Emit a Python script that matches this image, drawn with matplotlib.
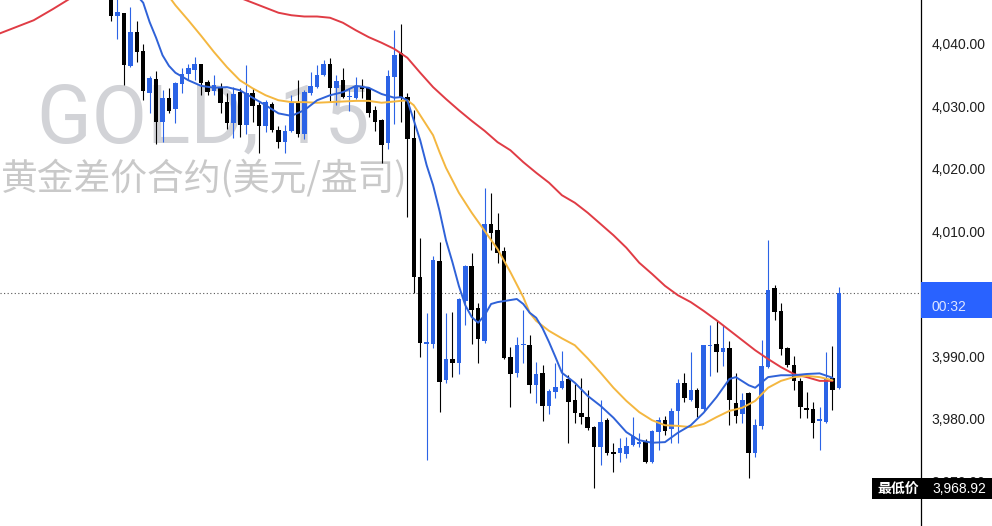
import numpy as np
import matplotlib
matplotlib.use("Agg")
import matplotlib.pyplot as plt
from matplotlib.patches import Rectangle

plt.rcParams['font.family'] = ['Liberation Sans', 'Noto Sans CJK SC', 'DejaVu Sans']

# ---------------- data (15-minute bars, index 0 = first visible bar) ----------------
opens = [4047.5, 4044.5, 4045.0, 4036.5, 4041.9, 4038.9, 4032.2, 4034.4, 4027.5, 4031.4,
         4029.6, 4033.6, 4035.2, 4035.8, 4036.8, 4033.9, 4032.5, 4033.0, 4030.7, 4027.4,
         4032.3, 4027.0, 4032.2, 4030.2, 4026.9, 4030.4, 4026.2, 4024.3, 4026.1, 4030.6,
         4025.6, 4032.2, 4033.1, 4035.0, 4036.8, 4033.0, 4034.2, 4031.5, 4031.4, 4033.1,
         4033.0, 4029.4, 4027.8, 4024.2, 4034.7, 4038.6, 4031.5, 4025.0, 4002.7, 3992.0,
         3992.0, 4005.3, 3986.2, 3989.6, 3989.0, 3998.9, 4004.5, 3997.8, 3992.5, 4011.2,
         4010.2, 4006.9, 3989.9, 3987.4, 3991.8, 3991.8, 3985.4, 3987.4, 3982.1, 3984.3,
         3985.0, 3986.4, 3983.0, 3981.0, 3980.3, 3978.7, 3975.5, 3979.8, 3974.7, 3974.6,
         3974.4, 3975.8, 3976.0, 3976.3, 3973.1, 3977.9, 3979.8, 3978.4, 3981.3, 3985.8,
         3983.0, 3984.6, 3981.6, 3991.7, 3992.0, 3990.7, 3991.4, 3982.5, 3980.8, 3984.2,
         3974.6, 3978.9, 3988.3, 4001.0, 3997.3, 3991.4, 3988.6, 3986.1, 3981.8, 3981.6,
         3979.7, 3979.5, 3986.6, 3984.9]
highs = [4049.0, 4047.5, 4045.0, 4045.9, 4043.7, 4040.0, 4034.9, 4035.7, 4032.6, 4033.0,
         4033.9, 4036.2, 4036.8, 4037.9, 4036.8, 4034.2, 4035.0, 4033.8, 4032.2, 4033.1,
         4033.0, 4036.6, 4033.0, 4030.7, 4031.0, 4030.7, 4026.9, 4027.0, 4031.8, 4034.2,
         4032.6, 4035.5, 4036.6, 4037.4, 4037.8, 4035.0, 4036.2, 4033.0, 4034.7, 4034.4,
         4033.1, 4030.1, 4028.0, 4035.8, 4042.2, 4043.2, 4032.2, 4029.4, 4009.0, 3997.0,
         4006.1, 4008.3, 3997.0, 3997.1, 3999.4, 4004.6, 4006.6, 3998.6, 4017.0, 4016.2,
         4013.0, 4007.5, 3991.5, 3993.1, 3997.4, 3993.4, 3989.1, 3988.6, 3984.8, 3988.9,
         3990.9, 3987.0, 3985.6, 3986.6, 3984.6, 3978.9, 3983.0, 3980.2, 3976.2, 3977.0,
         3977.1, 3980.3, 3977.8, 3976.8, 3978.2, 3980.3, 3980.5, 3981.8, 3986.4, 3987.4,
         3990.7, 3984.9, 3991.9, 3995.0, 3995.8, 3995.0, 3992.5, 3987.4, 3984.2, 3984.3,
         3980.0, 3992.6, 4008.6, 4001.4, 3998.6, 3991.5, 3990.1, 3986.6, 3984.3, 3982.7,
         3981.9, 3990.7, 3991.7, 4001.1]
lows = [4043.7, 4040.8, 4033.4, 4036.3, 4037.1, 4031.0, 4029.0, 4024.0, 4024.3, 4029.0,
        4027.4, 4032.2, 4034.2, 4034.2, 4031.8, 4031.8, 4031.9, 4029.0, 4026.4, 4025.0,
        4025.1, 4025.6, 4027.5, 4022.6, 4025.9, 4025.9, 4023.4, 4022.6, 4025.9, 4025.1,
        4024.8, 4031.8, 4033.0, 4034.9, 4030.7, 4030.2, 4031.4, 4029.3, 4031.2, 4031.4,
        4028.3, 4026.1, 4021.0, 4023.2, 4027.2, 4027.5, 4012.3, 4000.1, 3989.9, 3973.4,
        3991.4, 3981.1, 3985.8, 3986.7, 3987.2, 3995.0, 3992.0, 3989.0, 3992.2, 4007.0,
        4005.0, 3989.6, 3981.9, 3986.7, 3989.0, 3984.2, 3982.5, 3979.7, 3980.8, 3983.4,
        3984.8, 3976.1, 3979.4, 3979.2, 3978.2, 3968.92, 3972.6, 3974.2, 3971.5, 3973.1,
        3973.8, 3975.7, 3975.5, 3972.9, 3972.9, 3975.0, 3977.4, 3976.2, 3976.2, 3982.7,
        3982.9, 3980.3, 3981.3, 3986.9, 3987.5, 3988.5, 3979.0, 3979.4, 3979.4, 3970.5,
        3973.9, 3978.4, 3988.2, 3995.8, 3990.2, 3988.3, 3984.6, 3980.2, 3980.2, 3977.0,
        3975.0, 3979.4, 3981.4, 3984.8]
closes = [4044.5, 4045.1, 4036.6, 4041.9, 4038.7, 4032.5, 4034.6, 4027.5, 4031.4, 4029.3,
          4033.8, 4035.2, 4036.2, 4036.8, 4033.8, 4032.3, 4033.5, 4030.6, 4027.4, 4032.0,
          4027.0, 4032.2, 4030.1, 4026.9, 4030.7, 4026.2, 4024.3, 4026.1, 4030.6, 4025.6,
          4032.3, 4033.3, 4035.0, 4036.8, 4033.0, 4034.1, 4031.5, 4031.7, 4033.3, 4032.8,
          4029.0, 4027.5, 4023.8, 4034.9, 4038.2, 4031.5, 4024.8, 4002.7, 3992.2, 3992.3,
          4005.4, 3985.9, 3989.6, 3989.0, 3999.2, 4004.5, 3997.4, 3992.8, 4011.2, 4009.8,
          4006.6, 3989.8, 3987.2, 3991.8, 3992.0, 3985.4, 3987.2, 3982.1, 3984.5, 3985.1,
          3986.1, 3982.7, 3981.0, 3980.3, 3978.5, 3975.5, 3979.5, 3974.6, 3974.4, 3975.4,
          3975.7, 3977.3, 3976.3, 3973.1, 3978.1, 3979.8, 3978.1, 3981.3, 3985.8, 3983.4,
          3984.6, 3981.8, 3991.8, 3991.9, 3990.7, 3991.4, 3983.0, 3980.5, 3983.0, 3974.6,
          3979.0, 3988.5, 4000.6, 3997.1, 3991.2, 3988.6, 3986.1, 3981.9, 3981.4, 3979.4,
          3980.0, 3986.4, 3984.6, 4000.16]

# moving averages (bar index, value); NaN = above the visible range
ma_fast_bars = [4, 5, 6, 7, 8, 9, 10, 12, 14, 16, 18, 20, 22, 24, 26, 28, 30, 32, 34, 36,
                38, 40, 42, 44, 45, 46, 47, 48, 49, 50, 51, 52, 53, 54, 55, 56, 57, 58, 59,
                60, 63, 64, 65, 66, 67, 68, 69, 70, 72, 74, 76, 78, 80, 82, 84, 86, 88, 90,
                92, 94, 96, 97, 99, 100, 102, 104, 106, 108, 110, 112]
ma_fast = [4047.8, 4046.6, 4043.5, 4041.0, 4038.2, 4036.5, 4035.4, 4034.2, 4033.3, 4033.0,
           4033.1, 4032.6, 4031.4, 4030.2, 4028.9, 4028.5, 4029.4, 4031.0, 4031.8, 4032.3,
           4033.3, 4033.0, 4032.0, 4031.4, 4031.5, 4031.0, 4027.8, 4024.6, 4020.6, 4017.4,
           4013.3, 4008.6, 4005.1, 4001.3, 3998.2, 3996.3, 3995.4, 3996.6, 3998.4, 3998.7,
           3999.2, 3998.4, 3997.0, 3996.2, 3994.5, 3992.3, 3989.9, 3987.4, 3985.8, 3983.7,
           3982.1, 3980.2, 3977.9, 3976.6, 3976.2, 3976.3, 3977.8, 3979.0, 3981.0, 3983.5,
           3986.4, 3986.7, 3985.4, 3985.0, 3986.7, 3987.0, 3987.0, 3987.2, 3987.3, 3986.6]

ma_mid_bars = [9, 10, 12, 14, 16, 18, 20, 22, 24, 26, 28, 30, 32, 34, 36, 38, 40, 42, 44, 46,
               47, 48, 49, 50, 51, 52, 53, 54, 56, 58, 60, 62, 64, 65, 66, 68, 70, 72, 74,
               76, 78, 80, 82, 84, 86, 88, 90, 92, 94, 96, 98, 100, 102, 104, 106, 108, 110, 112]
ma_mid = [4047.6, 4046.2, 4043.8, 4041.3, 4038.7, 4036.3, 4034.2, 4032.9, 4031.8, 4031.0,
          4030.7, 4030.7, 4030.6, 4030.7, 4030.8, 4030.9, 4030.9, 4030.6, 4030.8, 4031.0,
          4030.2, 4028.6, 4027.0, 4025.4, 4022.7, 4020.2, 4018.2, 4016.2, 4013.0, 4010.1,
          4007.2, 4003.5, 3999.5, 3997.0, 3995.7, 3994.1, 3992.9, 3991.8, 3989.7, 3987.4,
          3985.0, 3982.9, 3981.1, 3979.8, 3979.0, 3978.9, 3978.7, 3979.2, 3980.3, 3981.3,
          3981.8, 3982.9, 3985.0, 3986.1, 3986.7, 3986.9, 3986.7, 3986.2]

ma_slow_bars = [-18, -15, -12, -9, -6, 7, 20, 22, 24, 26, 28, 30, 32, 34, 36, 38, 40, 42, 44,
                46, 48, 50, 52, 54, 56, 58, 60, 62, 64, 66, 68, 70, 72, 74, 76, 78, 80, 82,
                84, 86, 88, 90, 92, 94, 96, 98, 100, 102, 104, 106, 108, 110, 112]
ma_slow = [4041.4, 4042.6, 4043.8, 4045.6, 4047.5, np.nan, 4047.4, 4046.6, 4045.8, 4045.0,
           4044.6, 4044.4, 4044.4, 4044.2, 4043.4, 4042.2, 4041.1, 4040.2, 4039.2, 4037.8,
           4035.4, 4033.1, 4031.2, 4029.4, 4027.7, 4026.1, 4024.3, 4023.0, 4021.1, 4019.4,
           4017.8, 4015.8, 4014.6, 4013.0, 4011.2, 4009.4, 4007.4, 4005.0, 4003.2, 4001.3,
           3999.8, 3998.7, 3997.3, 3995.8, 3994.2, 3992.6, 3991.0, 3989.6, 3988.3, 3987.2,
           3986.7, 3986.1, 3986.1]

price_ticks = [3970, 3980, 3990, 4010, 4020, 4030, 4040]   # 4,000 is hidden by the price box
last_price = 4000.16
low_price = 3968.92
countdown = "00:32"
symbol_text = "GOLD, 15"
desc_text = "黄金差价合约(美元/盎司)"
low_label = "最低价"

# ---------------- drawing ----------------
UP = '#2B63E6'
DOWN = '#000000'

W, H = 992, 526
fig = plt.figure(figsize=(W / 100, H / 100), dpi=100)
fig.patch.set_facecolor('white')
ax = fig.add_axes([0, 0, 921 / W, 1])
ax.set_facecolor('white')

o = np.array(opens); h = np.array(highs); l = np.array(lows); c = np.array(closes)
idx = np.arange(len(o))
cols = [UP if cc >= oo else DOWN for oo, cc in zip(o, c)]

ax.vlines(idx, l, h, colors=cols, linewidth=0.8, zorder=2)
body_bottom = np.minimum(o, c)
body_h = np.maximum(np.abs(c - o), 0.18)
ax.bar(idx, body_h, bottom=body_bottom, width=0.7, color=cols, linewidth=0, zorder=2)

ax.plot(ma_slow_bars, ma_slow, color='#E03C45', lw=1.4, zorder=3, solid_capstyle='round')
ax.plot(ma_mid_bars, ma_mid, color='#F4B740', lw=1.4, zorder=3, solid_capstyle='round')
ax.plot(ma_fast_bars, ma_fast, color='#2F62D8', lw=1.4, zorder=3, solid_capstyle='round')

ax.axhline(last_price, color='#555555', lw=0.8, linestyle=(0, (1, 2.2)), zorder=1)

ax.set_xlim(-17.23, 125.74)
ax.set_ylim(3962.88, 4047.04)

for s in ['left', 'top', 'bottom']:
    ax.spines[s].set_visible(False)
ax.spines['right'].set_color('black')
ax.spines['right'].set_linewidth(0.9)
ax.set_xticks([])
ax.yaxis.tick_right()
ax.set_yticks(price_ticks)
ax.set_yticklabels([f"{v:,.2f}" for v in price_ticks])
ax.tick_params(axis='y', length=0, pad=7.5, labelsize=10, labelcolor='#1e1e1e')

# watermark
ax.text(37 / W, 1 - 143 / H, symbol_text, transform=fig.transFigure,
        fontsize=58, color='#D2D3D7', family=['Roboto', 'DejaVu Sans'],
        ha='left', va='baseline', zorder=0.5)
ax.text(1 / W, 1 - 179 / H, desc_text, transform=fig.transFigure,
        fontsize=26.5, color='#C9C9C9', family=['Noto Sans CJK SC', 'DejaVu Sans'],
        ha='left', va='center', zorder=0.5)

# current price label
fig.patches.append(Rectangle((921 / W, 1 - 318 / H), 71 / W, 36 / H,
                             transform=fig.transFigure, facecolor='#2962FF',
                             edgecolor='none', zorder=5))
fig.text(932 / W, 1 - 307 / H, countdown, fontsize=10, color='#DDE6FF',
         ha='left', va='center', zorder=6)

# low label
fig.patches.append(Rectangle((872 / W, 1 - 499 / H), 120 / W, 21 / H,
                             transform=fig.transFigure, facecolor='black',
                             edgecolor='none', zorder=5))
fig.text(877 / W, 1 - 489 / H, low_label, fontsize=10, color='white', weight='bold',
         family=['Noto Sans CJK SC', 'DejaVu Sans'], ha='left', va='center', zorder=6)
fig.text(932 / W, 1 - 489 / H, f"{low_price:,.2f}", fontsize=10, color='white',
         ha='left', va='center', zorder=6)

fig.savefig('out.png', dpi=100, facecolor='white')
